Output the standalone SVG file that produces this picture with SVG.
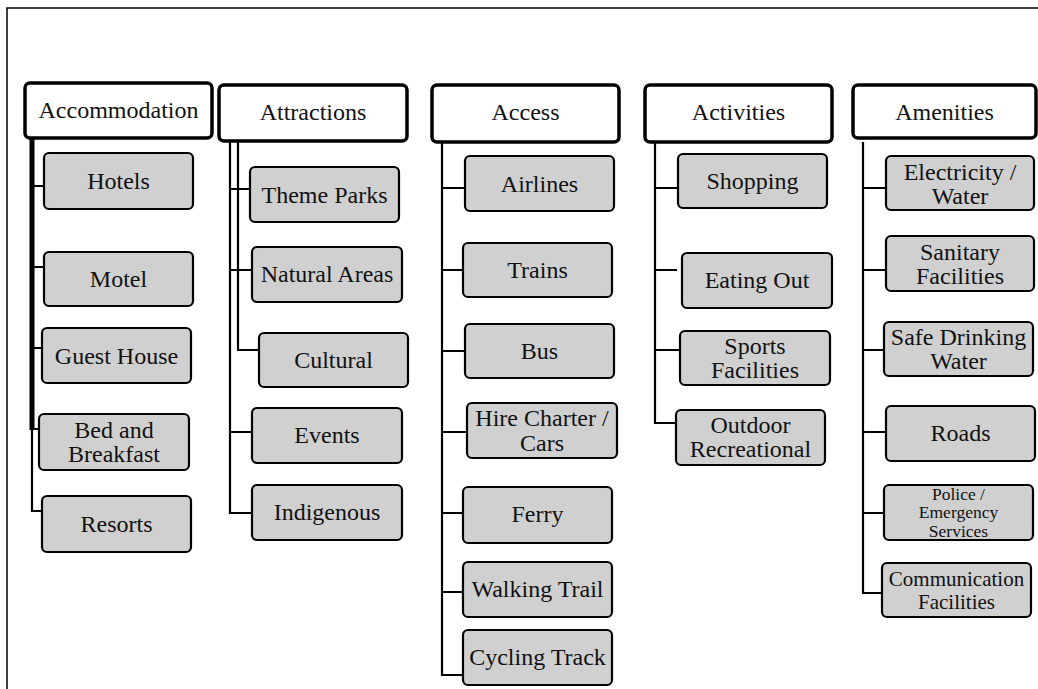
<svg xmlns="http://www.w3.org/2000/svg" width="1038" height="689" viewBox="0 0 1038 689">
<style>
.hdr{fill:#fff;stroke:#000;stroke-width:3.5}
.box{fill:#d0d0d0;stroke:#000;stroke-width:2.2}
.t{font-family:'Liberation Serif','DejaVu Serif',serif;font-size:24px;fill:#111;text-anchor:middle}
.tm{font-family:'Liberation Serif','DejaVu Serif',serif;font-size:21px;fill:#111;text-anchor:middle}
.ts{font-family:'Liberation Serif','DejaVu Serif',serif;font-size:17.5px;fill:#111;text-anchor:middle}
.c{fill:none;stroke:#000;stroke-width:2.2}
.ck{fill:none;stroke:#000;stroke-width:5}
.g{stroke:#aaa;stroke-width:2}
</style>
<rect width="1038" height="689" fill="#fff"/>
<path d="M1040,8 H7 V692" fill="none" stroke="#000" stroke-width="1.5"/>

<g id="connectors">
  <path class="ck" d="M32,138 V430"/>
  <path class="c" d="M32,186 H44 M32,267 H44 M32,348 H42 M32,429 H39"/>
  <path class="c" d="M32,428 V511 H42"/>
  <path class="g" d="M45,186 H56 M45,267 H56 M43,348 H54 M40,429 H52 M43,511 H54"/>
  <path class="c" d="M230,141 V513 H252" stroke-width="3"/>
  <path class="c" d="M230,189 H250 M230,270 H252 M230,432 H252"/>
  <path class="c" d="M238,141 V350 H259"/>
  <path class="c" d="M442,142 V675 H463" stroke-width="3"/>
  <path class="c" d="M442,188 H465 M442,270 H463 M442,351 H465 M442,432 H467 M442,513 H463 M442,592 H463"/>
  <path class="c" d="M655,142 V423 H676" stroke-width="2.6"/>
  <path class="c" d="M655,188 H678 M655,270 H677 M655,350 H680"/>
  <path class="c" d="M863,142 V593 H882" stroke-width="2.6"/>
  <path class="c" d="M863,188 H886 M863,270 H886 M863,350 H884 M863,432 H886 M863,513 H884"/>
</g>

<g id="accommodation">
  <rect class="hdr" x="25" y="83" width="187" height="55" rx="5"/>
  <text class="t" x="118.5" y="118">Accommodation</text>
</g>
<g id="hotels"><rect class="box" x="44" y="153" width="149" height="56" rx="5"/><text class="t" x="118.5" y="189">Hotels</text></g>
<g id="motel"><rect class="box" x="44" y="252" width="149" height="54" rx="5"/><text class="t" x="118.5" y="287">Motel</text></g>
<g id="guest-house"><rect class="box" x="42" y="328" width="149" height="55" rx="5"/><text class="t" x="116.5" y="364">Guest House</text></g>
<g id="bed-and-breakfast"><rect class="box" x="39" y="414" width="150" height="56" rx="5"/><text class="t" x="114" y="438">Bed and</text><text class="t" x="114" y="462">Breakfast</text></g>
<g id="resorts"><rect class="box" x="42" y="496" width="149" height="56" rx="5"/><text class="t" x="116.5" y="532">Resorts</text></g>

<g id="attractions">
  <rect class="hdr" x="219" y="85" width="188" height="56" rx="5"/>
  <text class="t" x="313" y="120">Attractions</text>
</g>
<g id="theme-parks"><rect class="box" x="250" y="167" width="149" height="55" rx="5"/><text class="t" x="324.5" y="203">Theme Parks</text></g>
<g id="natural-areas"><rect class="box" x="252" y="247" width="150" height="55" rx="5"/><text class="t" x="327" y="282">Natural Areas</text></g>
<g id="cultural"><rect class="box" x="259" y="333" width="149" height="54" rx="5"/><text class="t" x="333.5" y="368">Cultural</text></g>
<g id="events"><rect class="box" x="252" y="408" width="150" height="55" rx="5"/><text class="t" x="327" y="443">Events</text></g>
<g id="indigenous"><rect class="box" x="252" y="485" width="150" height="55" rx="5"/><text class="t" x="327" y="520">Indigenous</text></g>

<g id="access">
  <rect class="hdr" x="432" y="85" width="187" height="57" rx="5"/>
  <text class="t" x="525.5" y="120">Access</text>
</g>
<g id="airlines"><rect class="box" x="465" y="156" width="149" height="55" rx="5"/><text class="t" x="539.5" y="192">Airlines</text></g>
<g id="trains"><rect class="box" x="463" y="243" width="149" height="54" rx="5"/><text class="t" x="537.5" y="278">Trains</text></g>
<g id="bus"><rect class="box" x="465" y="324" width="149" height="54" rx="5"/><text class="t" x="539.5" y="359">Bus</text></g>
<g id="hire-charter-cars"><rect class="box" x="467" y="403" width="150" height="55" rx="5"/><text class="t" x="542" y="426">Hire Charter /</text><text class="t" x="542" y="451">Cars</text></g>
<g id="ferry"><rect class="box" x="463" y="487" width="149" height="56" rx="5"/><text class="t" x="537.5" y="522">Ferry</text></g>
<g id="walking-trail"><rect class="box" x="463" y="562" width="149" height="55" rx="5"/><text class="t" x="537.5" y="597">Walking Trail</text></g>
<g id="cycling-track"><rect class="box" x="463" y="630" width="149" height="55" rx="5"/><text class="t" x="537.5" y="665">Cycling Track</text></g>

<g id="activities">
  <rect class="hdr" x="645" y="85" width="187" height="57" rx="5"/>
  <text class="t" x="738.5" y="120">Activities</text>
</g>
<g id="shopping"><rect class="box" x="678" y="154" width="149" height="54" rx="5"/><text class="t" x="752.5" y="189">Shopping</text></g>
<g id="eating-out"><rect class="box" x="682" y="253" width="150" height="55" rx="5"/><text class="t" x="757" y="288">Eating Out</text></g>
<g id="sports-facilities"><rect class="box" x="680" y="331" width="150" height="54" rx="5"/><text class="t" x="755" y="354">Sports</text><text class="t" x="755" y="378">Facilities</text></g>
<g id="outdoor-recreational"><rect class="box" x="676" y="410" width="149" height="55" rx="5"/><text class="t" x="750.5" y="433">Outdoor</text><text class="t" x="750.5" y="457">Recreational</text></g>

<g id="amenities">
  <rect class="hdr" x="853" y="85" width="183" height="53" rx="5"/>
  <text class="t" x="944.5" y="120">Amenities</text>
</g>
<g id="electricity-water"><rect class="box" x="886" y="156" width="148" height="54" rx="5"/><text class="t" x="960" y="180">Electricity /</text><text class="t" x="960" y="204">Water</text></g>
<g id="sanitary-facilities"><rect class="box" x="886" y="236" width="148" height="55" rx="5"/><text class="t" x="960" y="260">Sanitary</text><text class="t" x="960" y="284">Facilities</text></g>
<g id="safe-drinking-water"><rect class="box" x="884" y="322" width="149" height="54" rx="5"/><text class="t" x="958.5" y="345">Safe Drinking</text><text class="t" x="958.5" y="369">Water</text></g>
<g id="roads"><rect class="box" x="886" y="406" width="149" height="55" rx="5"/><text class="t" x="960.5" y="441">Roads</text></g>
<g id="police-emergency-services"><rect class="box" x="884" y="485" width="149" height="55" rx="5"/><text class="ts" x="958.5" y="500">Police /</text><text class="ts" x="958.5" y="518">Emergency</text><text class="ts" x="958.5" y="537">Services</text></g>
<g id="communication-facilities"><rect class="box" x="882" y="563" width="149" height="54" rx="5"/><text class="tm" x="956.5" y="586">Communication</text><text class="tm" x="956.5" y="609">Facilities</text></g>
</svg>
